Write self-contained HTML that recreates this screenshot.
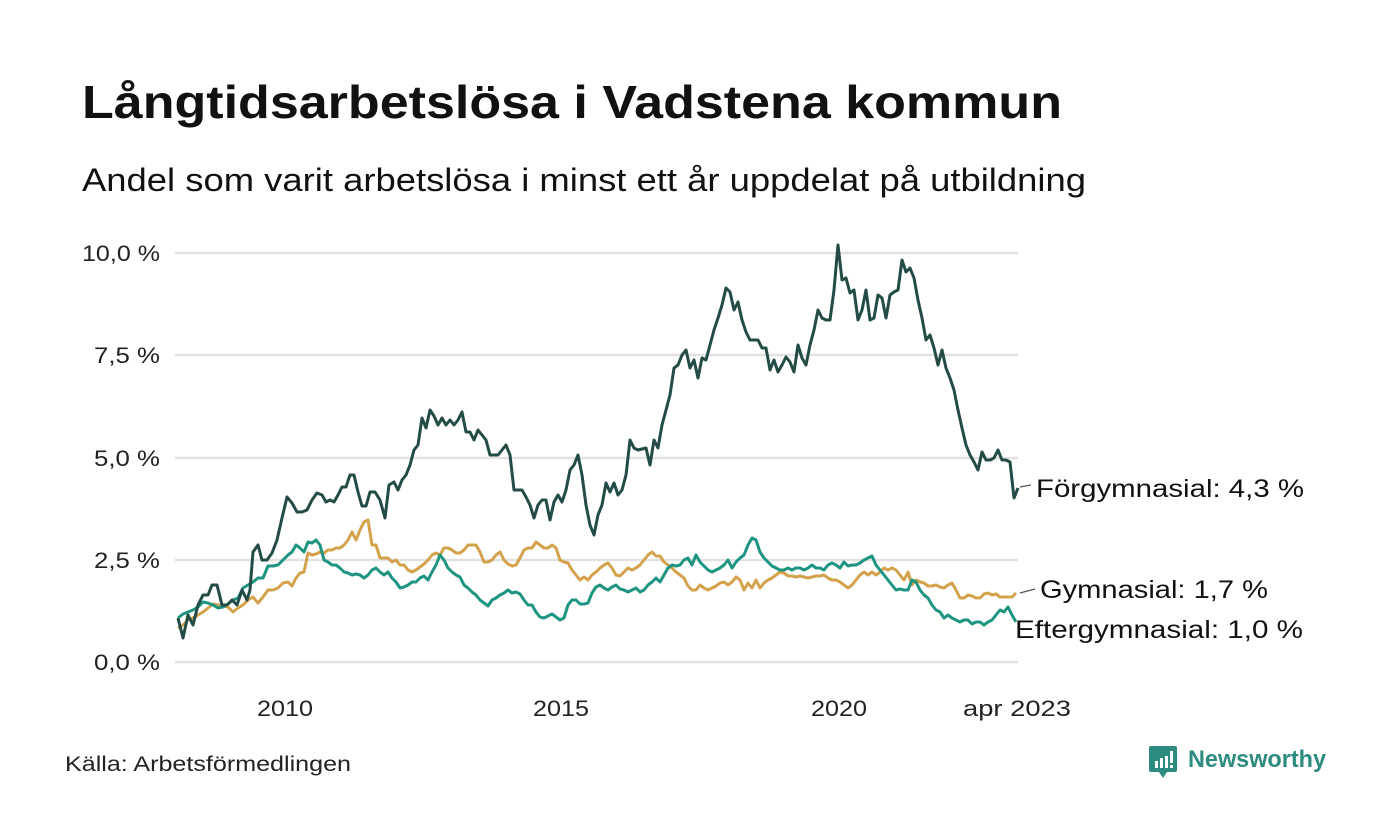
<!DOCTYPE html>
<html><head><meta charset="utf-8"><style>
body{margin:0;background:#fff;}
svg{display:block;font-family:"Liberation Sans",sans-serif;}
</style></head><body>
<svg width="1400" height="840" viewBox="0 0 1400 840">
<rect width="1400" height="840" fill="#fff"/>
<text x="82" y="118" font-size="46" font-weight="bold" fill="#111" textLength="980" lengthAdjust="spacingAndGlyphs">Långtidsarbetslösa i Vadstena kommun</text>
<text x="82" y="191" font-size="32" fill="#111" textLength="1004" lengthAdjust="spacingAndGlyphs">Andel som varit arbetslösa i minst ett år uppdelat på utbildning</text>
<g stroke="#e2e2e2" stroke-width="2.5">
<line x1="175" x2="1018" y1="253" y2="253"/><line x1="175" x2="1018" y1="355" y2="355"/>
<line x1="175" x2="1018" y1="458" y2="458"/><line x1="175" x2="1018" y1="560" y2="560"/>
<line x1="175" x2="1018" y1="662" y2="662"/></g>
<g font-size="22" fill="#222" text-anchor="end">
<text x="160" y="261" textLength="78" lengthAdjust="spacingAndGlyphs">10,0 %</text><text x="160" y="363" textLength="66" lengthAdjust="spacingAndGlyphs">7,5 %</text><text x="160" y="466" textLength="66" lengthAdjust="spacingAndGlyphs">5,0 %</text><text x="160" y="568" textLength="66" lengthAdjust="spacingAndGlyphs">2,5 %</text><text x="160" y="670" textLength="66" lengthAdjust="spacingAndGlyphs">0,0 %</text></g>
<g font-size="22" fill="#222" text-anchor="middle">
<text x="285" y="716" textLength="56" lengthAdjust="spacingAndGlyphs">2010</text><text x="561" y="716" textLength="56" lengthAdjust="spacingAndGlyphs">2015</text><text x="839" y="716" textLength="56" lengthAdjust="spacingAndGlyphs">2020</text><text x="1017" y="716" textLength="108" lengthAdjust="spacingAndGlyphs">apr 2023</text></g>
<g fill="none" stroke-width="3" stroke-linejoin="round">
<polyline stroke="#d4a24c" points="178,628 183,625 188,620 193,618 198,615 203,612 208,608 213,604 218,605 223,606 228,607 233,612 238,608 243,605 248,600 253,597 258,603 263,597 268,590 273,590 278,588 283,583 288,582 292,586 296,578 300,573 304,572 308,553 312,555 316,554 320,552 324,553 328,550 332,550 336,548 340,548 344,545 348,540 352,532 356,540 360,530 364,522 368,520 372,545 376,545 380,558 384,558 388,558 392,562 396,560 400,565 404,565 408,570 412,572 416,570 420,567 424,564 428,560 432,555 436,553 440,555 444,548 448,548 452,550 456,553 460,553 464,550 468,545 472,545 476,545 480,552 484,562 488,562 492,560 496,555 500,552 504,560 508,564 512,566 516,565 520,558 524,550 528,548 532,548 536,542 540,545 544,548 548,548 552,545 556,548 560,560 564,562 568,563 572,570 576,575 580,580 584,577 588,580 592,575 596,572 600,568 604,565 608,563 612,568 616,575 620,576 624,572 628,568 632,570 636,568 640,565 644,560 648,555 652,552 656,556 660,556 664,562 668,565 672,568 676,572 680,575 684,578 688,586 692,590 696,590 700,585 704,588 708,590 712,588 716,586 720,583 724,582 728,585 732,582 736,577 740,580 744,590 748,583 752,588 756,580 760,588 764,583 768,580 772,578 776,575 780,572 784,573 788,576 792,576 796,577 800,576 804,577 808,578 812,577 816,576 820,576 824,575 828,578 832,580 836,580 840,582 844,585 848,588 852,585 856,580 860,575 864,572 868,575 872,572 876,575 880,572 884,568 888,570 892,568 896,570 900,575 904,580 908,572 912,585 916,580 920,582 924,583 928,586 932,586 936,585 940,587 944,588 948,585 952,583 956,590 960,598 964,598 968,595 972,596 976,598 980,598 984,594 988,593 992,595 996,594 1000,597 1004,597 1008,597 1012,597 1016,593"/>
<polyline stroke="#1e9580" points="178,618 183,614 188,612 193,610 198,607 203,602 208,603 213,605 218,608 223,607 228,604 233,600 238,598 243,588 248,585 253,582 258,578 263,578 268,566 273,566 278,565 283,560 288,555 292,552 296,545 300,548 304,552 308,542 312,543 316,540 320,545 324,560 328,562 332,565 336,565 340,568 344,572 348,573 352,575 356,574 360,575 364,578 368,575 372,570 376,568 380,572 384,575 388,572 392,578 396,582 400,588 404,587 408,585 412,582 416,582 420,578 424,576 428,580 432,572 436,565 440,555 444,560 448,568 452,572 456,575 460,577 464,585 468,588 472,592 476,595 480,600 484,603 488,606 492,600 496,598 500,595 504,593 508,590 512,593 516,592 520,594 524,600 528,605 532,605 536,612 540,617 544,618 548,616 552,614 556,617 560,620 564,618 568,605 572,600 576,600 580,604 584,604 588,603 592,593 596,587 600,585 604,588 608,590 612,587 616,585 620,589 624,590 628,592 632,590 636,588 640,592 644,590 648,585 652,582 656,578 660,582 664,575 668,568 672,565 676,566 680,565 684,560 688,558 692,565 696,555 700,562 704,566 708,570 712,572 716,570 720,568 724,565 728,560 732,568 736,562 740,558 744,555 748,545 752,538 756,540 760,552 764,558 768,562 772,566 776,568 780,570 784,570 788,568 792,570 796,568 800,568 804,570 808,568 812,565 816,568 820,568 824,570 828,565 832,563 836,565 840,568 844,562 848,566 852,565 856,565 860,563 864,560 868,558 872,556 876,565 880,570 884,575 888,580 892,585 896,590 900,589 904,590 908,590 912,580 916,582 920,590 924,595 928,598 932,605 936,610 940,612 944,618 948,615 952,618 956,620 960,622 964,620 968,620 972,624 976,622 980,622 984,625 988,622 992,620 996,615 1000,610 1004,612 1008,607 1012,615 1016,622"/>
<polyline stroke="#234c46" points="178,618 183,638 188,615 193,625 198,605 203,595 208,595 212,585 217,585 222,605 227,605 232,600 237,605 242,590 247,600 250,590 253,552 258,545 262,560 267,560 272,553 277,540 282,518 287,497 292,503 297,512 302,512 307,510 312,500 317,493 322,495 326,502 330,500 334,502 338,495 342,487 346,487 350,475 354,475 358,492 362,506 366,506 370,492 375,492 380,500 385,518 389,485 394,482 398,490 402,480 406,475 410,465 414,450 418,445 422,418 426,428 430,410 434,416 438,425 442,418 446,425 450,420 454,425 458,420 462,412 466,432 470,432 474,440 478,430 482,435 486,440 490,455 494,455 498,455 502,450 506,445 510,455 514,490 518,490 522,490 526,497 530,505 534,518 538,505 542,500 546,500 550,520 554,502 558,495 562,502 566,490 570,470 574,465 578,455 582,475 586,505 590,525 594,535 598,515 602,505 606,483 610,492 614,483 618,495 622,490 626,475 630,440 634,448 638,450 642,449 646,448 650,465 654,440 658,448 662,425 666,410 670,395 674,368 678,365 682,355 686,350 690,368 694,360 698,378 702,358 706,360 710,345 714,330 718,318 722,305 726,288 730,292 734,310 738,302 742,320 746,332 750,340 754,340 758,340 762,348 766,348 770,370 774,360 778,372 782,365 786,357 790,362 794,372 798,345 802,358 806,365 810,345 814,330 818,310 822,318 826,320 830,320 834,290 838,245 842,280 846,278 850,293 854,290 858,320 862,310 866,290 870,320 874,318 878,295 882,298 886,318 890,295 894,292 898,290 902,260 906,272 910,268 914,278 918,300 922,318 926,340 930,335 934,348 938,365 942,350 946,368 950,378 954,390 958,410 962,428 966,445 970,455 974,462 978,470 982,452 986,460 990,460 994,458 998,450 1002,460 1006,460 1010,462 1014,498 1018,488"/>
</g>
<g stroke="#555" stroke-width="1.2"><line x1="1020" y1="487" x2="1031" y2="485"/><line x1="1020" y1="593" x2="1035" y2="589"/></g>
<g font-size="25" fill="#111">
<text x="1036" y="497" textLength="268" lengthAdjust="spacingAndGlyphs">Förgymnasial: 4,3 %</text>
<text x="1040" y="598" textLength="228" lengthAdjust="spacingAndGlyphs">Gymnasial: 1,7 %</text>
<text x="1015" y="638" textLength="288" lengthAdjust="spacingAndGlyphs">Eftergymnasial: 1,0 %</text></g>
<text x="65" y="771" font-size="21" fill="#222" textLength="286" lengthAdjust="spacingAndGlyphs">Källa: Arbetsförmedlingen</text>
<g transform="translate(1149,746)">
<path d="M2 0 H26 Q28 0 28 2 V24 Q28 26 26 26 H18 L14 32 L10 26 H2 Q0 26 0 24 V2 Q0 0 2 0Z" fill="#2e8b80"/>
<rect x="6" y="15" width="3" height="7" fill="#fff"/><rect x="11" y="12" width="3" height="10" fill="#fff"/><rect x="16" y="10" width="3" height="12" fill="#fff"/><rect x="21" y="5" width="3" height="12" fill="#fff"/><rect x="21" y="19" width="3" height="3" fill="#fff"/>
</g>
<text x="1188" y="767" font-size="24" font-weight="bold" fill="#2e8b80" textLength="138" lengthAdjust="spacingAndGlyphs">Newsworthy</text>
</svg>
</body></html>
